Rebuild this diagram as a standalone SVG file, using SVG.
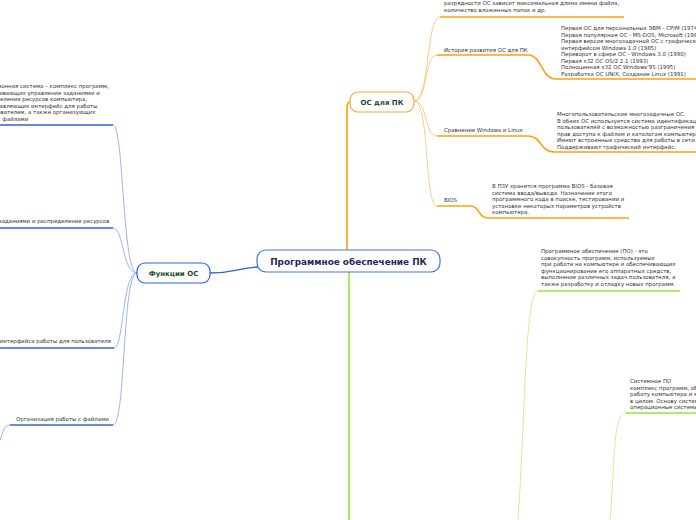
<svg xmlns="http://www.w3.org/2000/svg" width="696" height="520" viewBox="0 0 696 520">
<style>
.t{font-family:"DejaVu Sans","Liberation Sans",sans-serif;font-size:5.45px;fill:#333}
.nb{font-family:"DejaVu Sans","Liberation Sans",sans-serif;font-weight:bold;fill:#1d4a2e}
.o{fill:none;stroke:#ff9f10;stroke-width:1.6}
.oc{fill:none;stroke:#fbc57a;stroke-width:0.9}
.g{fill:none;stroke:#99e62e;stroke-width:1.6}
.gc{fill:none;stroke:#c4ef8d;stroke-width:0.9}
.b{fill:none;stroke:#2d62e6;stroke-width:1.4}
.bc{fill:none;stroke:#8eabf2;stroke-width:0.9}
</style>
<rect width="696" height="520" fill="#fff"/>
<g id="connectors">
<path class="o" d="M347,250 L347,108 Q347,101 352,101"/>
<path class="g" d="M349,272 L349,520"/>
<path class="b" d="M210,273 C235,273 238,268 258,267"/>
<path class="oc" d="M414,101 C430,101 426,17 440,17"/>
<path class="oc" d="M414,101 C428,101 424,55 437,55"/>
<path class="oc" d="M414,101 C428,101 424,136 437,136"/>
<path class="oc" d="M414,101 C430,101 424,206 437,206"/>
<path class="o" d="M440,17 L624,17"/>
<path class="o" d="M437,55 L528,55 C542,55 541,79 556,79 L696,79"/>
<path class="o" d="M437,136 L528,136 C542,136 540,152 554,152 L696,152"/>
<path class="o" d="M437,206 L470,206 C480,206 478,218 488,218 L629,218"/>
<path class="gc" d="M518,520 C525,420 525,291 538,291"/>
<path class="g" d="M538,291 L680,291"/>
<path class="gc" d="M610,520 C615,470 612,413 626,413"/>
<path class="g" d="M626,413 L696,413"/>
<path class="bc" d="M137,273 C122,273 124,125 113,125"/>
<path class="bc" d="M137,273 C122,273 124,228 113,228"/>
<path class="bc" d="M137,273 C122,273 124,348 114,348"/>
<path class="bc" d="M137,273 C122,273 126,425 113,425"/>
<path class="b" d="M0,125 L113,125"/>
<path class="b" d="M0,228 L113,228"/>
<path class="b" d="M0,348 L114,348"/>
<path class="b" d="M10,425 L113,425"/>
<path class="bc" d="M10,425 C4,425 3,432 0,440"/>
</g>
<g id="central">
<rect x="257" y="250" width="183" height="22" rx="9" fill="#fff" stroke="#3c7ae2" stroke-width="1.2"/>
<text x="348.5" y="264.5" text-anchor="middle" font-family="DejaVu Sans, Liberation Sans, sans-serif" font-weight="bold" font-size="8.9" fill="#1c2a5c">Программное обеспечение ПК</text>
</g>
<g id="os">
<rect x="350" y="92" width="64" height="20" rx="8" fill="#fff" stroke="#f3a83a" stroke-width="1.2"/>
<text class="nb" x="382" y="104.6" text-anchor="middle" font-size="7">ОС для ПК</text>
</g>
<g id="func">
<rect x="137" y="263" width="73" height="20" rx="8" fill="#fff" stroke="#2d62e6" stroke-width="1.2"/>
<text class="nb" x="173.5" y="275.6" text-anchor="middle" font-size="7">Функции ОС</text>
</g>
<g id="top-note">
<text class="t" x="444" y="5">разрядности ОС зависит максимальная длина имени файла,</text>
<text class="t" x="444" y="12">количество вложенных папок и др.</text>
</g>
<g id="history">
<text class="t" x="444" y="52">История развития ОС для ПК</text>
<text class="t" x="561" y="30">Первая ОС для персональных ЭВМ - CP/M (1974)</text>
<text class="t" x="561" y="36.5">Первая популярная ОС - MS-DOS, Microsoft (1981)</text>
<text class="t" x="561" y="43">Первая версия многозадачной ОС с графическим</text>
<text class="t" x="561" y="49.5">интерфейсом Windows 1.0 (1985)</text>
<text class="t" x="561" y="56">Переворот в сфере ОС - Windows 3.0 (1990)</text>
<text class="t" x="561" y="62.5">Первая x32 ОС OS/2 2.1 (1993)</text>
<text class="t" x="561" y="69">Полноценная x32 ОС Windows'95 (1995)</text>
<text class="t" x="561" y="75.5">Разработка ОС UNIX; Создание Linux (1991)</text>
</g>
<g id="compare">
<text class="t" x="444" y="132">Сравнение Windows и Linux</text>
<text class="t" x="557" y="116">Многопользовательские многозадачные ОС.</text>
<text class="t" x="557" y="122.5">В обеих ОС используется система идентификации</text>
<text class="t" x="557" y="129">пользователей с возможностью разграничения</text>
<text class="t" x="557" y="135.5">прав доступа к файлам и каталогам компьютера</text>
<text class="t" x="557" y="142">Имеют встроенные средства для работы в сети.</text>
<text class="t" x="557" y="148.5">Поддерживают графический интерфейс;</text>
</g>
<g id="bios">
<text class="t" x="444" y="202">BIOS</text>
<text class="t" x="492" y="188">В ПЗУ хранится программа BIOS - базовая</text>
<text class="t" x="492" y="194.5">система ввода/вывода. Назначение этого</text>
<text class="t" x="492" y="201">программного кода в поиске, тестировании и</text>
<text class="t" x="492" y="207.5">установке некоторых параметров устройств</text>
<text class="t" x="492" y="214">компьютера.</text>
</g>
<g id="software">
<text class="t" x="541" y="253">Программное обеспечение (ПО) - это</text>
<text class="t" x="541" y="259.5">совокупность программ, используемых</text>
<text class="t" x="541" y="266">при работе на компьютере и обеспечивающих</text>
<text class="t" x="541" y="272.5">функционирование его аппаратных средств,</text>
<text class="t" x="541" y="279">выполнение различных задач пользователя, а</text>
<text class="t" x="541" y="285.5">также разработку и отладку новых программ.</text>
</g>
<g id="system-software">
<text class="t" x="630" y="383">Системное ПО</text>
<text class="t" x="630" y="389.5">комплекс программ, обеспечивающих</text>
<text class="t" x="630" y="396">работу компьютера и компьютерной сети</text>
<text class="t" x="630" y="402.5">в целом. Основу системного ПО составляют</text>
<text class="t" x="630" y="409">операционные системы.</text>
</g>
<g id="os-def">
<text class="t" x="-24" y="88">Операционная система – комплекс программ,</text>
<text class="t" x="-24" y="94.5">обеспечивающих управление заданиями и</text>
<text class="t" x="-24" y="101">распределение ресурсов компьютера,</text>
<text class="t" x="-24" y="107.5">предоставляющих интерфейс для работы</text>
<text class="t" x="-24" y="114">с пользователем, а также организующих</text>
<text class="t" x="-24" y="120.5">работу с файлами</text>
</g>
<g id="tasks">
<text class="t" x="-37" y="223">Управление заданиями и распределение ресурсов</text>
</g>
<g id="interface">
<text class="t" x="-50" y="343">Предоставление интерфейса работы для пользователя</text>
</g>
<g id="files">
<text class="t" x="16" y="421">Организация работы с файлами</text>
</g>
</svg>
